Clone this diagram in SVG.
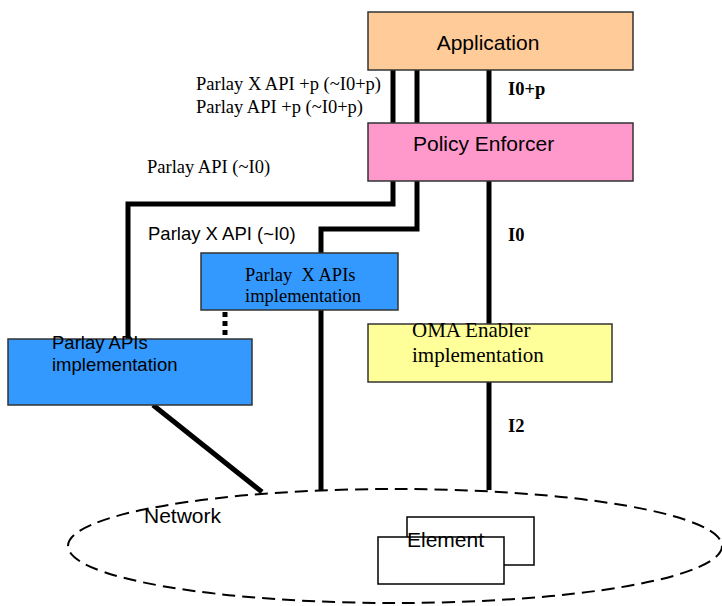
<svg xmlns="http://www.w3.org/2000/svg" width="722" height="606" viewBox="0 0 722 606">
<style>
.box{stroke:#333;stroke-width:1.5}
.conn{fill:none;stroke:#000;stroke-width:5}
.ar{font-family:"Liberation Sans",Arial,sans-serif;fill:#000}
.tm{font-family:"Liberation Serif","Times New Roman",serif;fill:#000}
.b{font-weight:bold}
</style>
<rect width="722" height="606" fill="#fff"/>
<g id="connectors">
<line class="conn" x1="393" y1="70" x2="393" y2="123"/>
<line class="conn" x1="417" y1="70" x2="417" y2="123"/>
<line class="conn" x1="489" y1="70" x2="489" y2="123"/>
<polyline class="conn" points="393,181 393,204 128,204 128,339"/>
<polyline class="conn" points="417,181 417,229 321,229 321,253"/>
<line class="conn" x1="321" y1="310" x2="321" y2="490"/>
<line class="conn" x1="489" y1="181" x2="489" y2="324"/>
<line class="conn" x1="489" y1="382" x2="489" y2="490"/>
<line class="conn" x1="153" y1="405" x2="262" y2="492"/>
<line class="conn" x1="225" y1="312" x2="225" y2="339" stroke-dasharray="5 4"/>
</g>
<g id="network">
<ellipse cx="395" cy="546" rx="327" ry="57" fill="none" stroke="#000" stroke-width="2" stroke-dasharray="13 7"/>
<text class="ar" x="144" y="523" font-size="21">Network</text>
</g>
<g id="element">
<rect x="407" y="517" width="127" height="48" fill="#fff" stroke="#000" stroke-width="1.5"/>
<rect x="378" y="537" width="126" height="47" fill="#fff" stroke="#000" stroke-width="1.5"/>
<text class="ar" x="407" y="547" font-size="21">Element</text>
</g>
<g id="application">
<rect class="box" x="368" y="12" width="265" height="58" fill="#FFCC99"/>
<text class="ar" x="488" y="50" font-size="21" text-anchor="middle">Application</text>
</g>
<g id="policy-enforcer">
<rect class="box" x="368" y="123" width="265" height="58" fill="#FF99CC"/>
<text class="ar" x="413" y="151" font-size="21">Policy Enforcer</text>
</g>
<g id="parlay-x-apis">
<rect class="box" x="201" y="253" width="197" height="57" fill="#3399FF"/>
<text class="tm" x="245" y="281" font-size="18.5" xml:space="preserve">Parlay  X APIs</text>
<text class="tm" x="245" y="302" font-size="18.5">implementation</text>
</g>
<g id="parlay-apis">
<rect class="box" x="8" y="339" width="244" height="66" fill="#3399FF"/>
<text class="ar" x="52" y="349" font-size="18.5">Parlay APIs</text>
<text class="ar" x="52" y="371" font-size="18.5">implementation</text>
</g>
<g id="oma-enabler">
<rect class="box" x="368" y="324" width="244" height="58" fill="#FFFF99"/>
<text class="tm" x="412" y="337" font-size="21">OMA Enabler</text>
<text class="tm" x="412" y="362" font-size="21">implementation</text>
</g>
<g id="labels">
<text class="tm" x="196" y="90" font-size="18.5">Parlay X API +p (~I0+p)</text>
<text class="tm" x="196" y="113" font-size="18.5">Parlay API +p (~I0+p)</text>
<text class="tm b" x="508" y="95" font-size="18.5">I0+p</text>
<text class="tm" x="147" y="173" font-size="18.5">Parlay API (~I0)</text>
<text class="ar" x="148" y="240" font-size="18.5">Parlay X API (~I0)</text>
<text class="tm b" x="508" y="241" font-size="18.5">I0</text>
<text class="tm b" x="508" y="432" font-size="18.5">I2</text>
</g>
</svg>
